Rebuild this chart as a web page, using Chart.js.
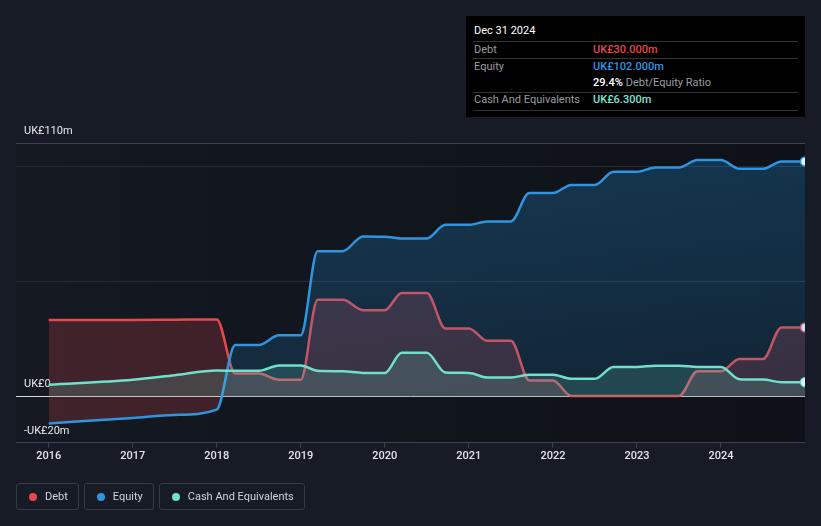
<!DOCTYPE html>
<html>
<head>
<meta charset="utf-8">
<script src="https://cdn.jsdelivr.net/npm/chart.js@4/dist/chart.umd.min.js"></script>
<style>
  html, body { margin: 0; padding: 0; background: #161b25; }
  body { width: 821px; height: 526px; position: relative; overflow: hidden; font-family: Roboto, "Noto Sans", sans-serif; }
  #wrap { position: absolute; left: 0; top: 0; width: 821px; height: 526px; }
  .legend { position: absolute; top: 483px; left: 16px; display: flex; gap: 5px; }
  .legend .item { height: 27px; border: 1px solid #363c46; border-radius: 3px; box-sizing: border-box; display: flex; align-items: center; padding: 0 10px 0 12px; font-size: 11px; color: #d2d4d8; }
  .legend .dot { width: 8px; height: 8px; border-radius: 50%; margin-right: 8px; }
  .tip { position: absolute; left: 466px; top: 16px; width: 339px; height: 101px; background: #000; font-size: 11px; }
  .tip .row { position: absolute; left: 8px; width: 324px; height: 17px; line-height: 17px; }
  .tip .sep { position: absolute; left: 7px; width: 325px; height: 1px; background: #333; }
  .tip .lab { position: absolute; left: 0; color: #9a9ca0; }
  .tip .val { position: absolute; left: 119px; font-weight: 500; }
</style>
</head>
<body>
<div id="wrap"><canvas id="myChart" width="821" height="526"></canvas></div>

<div class="tip">
  <div class="row" style="top:6px;color:#fff">Dec 31 2024</div>
  <div class="sep" style="top:25px"></div>
  <div class="row" style="top:25px"><span class="lab">Debt</span><span class="val" style="color:#e5484d">UK£30.000m</span></div>
  <div class="sep" style="top:42px"></div>
  <div class="row" style="top:42px"><span class="lab">Equity</span><span class="val" style="color:#2f95e0">UK£102.000m</span></div>
  <div class="row" style="top:58px"><span class="val" style="color:#fff">29.4% <span style="color:#9a9ca0;font-weight:400">Debt/Equity Ratio</span></span></div>
  <div class="sep" style="top:76px"></div>
  <div class="row" style="top:75px"><span class="lab">Cash And Equivalents</span><span class="val" style="color:#7ee4d2">UK£6.300m</span></div>
  <div class="sep" style="top:94px"></div>
</div>

<div class="legend">
  <div class="item"><span class="dot" style="background:#e5484d"></span>Debt</div>
  <div class="item"><span class="dot" style="background:#2f95e0"></span>Equity</div>
  <div class="item"><span class="dot" style="background:#6fe0c9"></span>Cash And Equivalents</div>
</div>

<script>
// decimal years of the reported points
var times = [2016.0, 2017.0, 2017.5, 2018.0, 2018.22, 2018.5, 2018.74, 2019.0, 2019.2, 2019.5, 2019.74, 2020.0,
             2020.2, 2020.5, 2020.72, 2021.0, 2021.22, 2021.5, 2021.72, 2022.0, 2022.22, 2022.5, 2022.72, 2023.0,
             2023.22, 2023.5, 2023.72, 2024.0, 2024.22, 2024.5, 2024.72, 2025.0];

// values in UK£m
var debt = [33.2, 33.3, 33.4, 33.5, 10, 10, 7.3, 7.3, 42, 42, 37.5, 37.5,
            45, 45, 29.6, 29.6, 24.2, 24.2, 7, 7, 0.3, 0.3, 0.3, 0.3,
            0.3, 0.3, 11, 11, 16.3, 16.3, 30, 30];
var equity = [-11.6, -9.2, -7.9, -5.6, 22.4, 22.4, 26.6, 26.6, 63.1, 63.1, 69.5, 69.4,
              68.6, 68.6, 74.5, 74.5, 76, 76, 88.3, 88.3, 91.8, 91.8, 97.5, 97.5,
              99.4, 99.4, 102.6, 102.6, 98.8, 98.8, 102, 102];
var cash = [5.2, 7.3, 9.3, 11.3, 11.2, 11.2, 13.5, 13.5, 11.2, 11.0, 10.3, 10.3,
            19.1, 19.1, 10.5, 10.3, 8.3, 8.3, 9.5, 9.5, 7.8, 7.8, 12.9, 12.9,
            13.4, 13.4, 12.9, 12.9, 7.6, 7.4, 6.3, 6.3];

var yearTicks = [2016, 2017, 2018, 2019, 2020, 2021, 2022, 2023, 2024];
var yTicks = [-20, 0, 50, 100, 110];
var yLabels = {'-20': '-UK£20m', '0': 'UK£0', '110': 'UK£110m'};

function pts(vals) {
    return vals.map(function (v, i) { return {x: times[i], y: v}; });
}
function lastOnly(r) {
    return times.map(function (t, i) { return i === times.length - 1 ? r : 0; });
}

var bgPlugin = {
    id: 'bg',
    beforeDraw: function (chart) {
        var c = chart.ctx, a = chart.chartArea;
        c.save();
        c.fillStyle = '#161b25';
        c.fillRect(0, 0, chart.width, chart.height);
        var g = c.createLinearGradient(a.left, 0, a.right, 0);
        g.addColorStop(0, '#141922');
        g.addColorStop(1, '#0e1117');
        c.fillStyle = g;
        c.fillRect(a.left, a.top, a.right - a.left, a.bottom - a.top);
        c.restore();
    }
};

function equityFill(context) {
    var a = context.chart.chartArea;
    if (!a) return 'rgba(35,148,223,0.22)';
    var g = context.chart.ctx.createLinearGradient(0, a.top, 0, a.bottom);
    g.addColorStop(0, 'rgba(35,148,223,0.28)');
    g.addColorStop(1, 'rgba(35,148,223,0.12)');
    return g;
}

var ctx = document.getElementById('myChart').getContext('2d');
var myChart = new Chart(ctx, {
    type: 'line',
    data: {
        datasets: [{
            label: 'Debt',
            data: pts(debt),
            borderColor: '#e5484d',
            backgroundColor: 'rgba(229,72,77,0.22)',
            fill: 'origin',
            order: 3
        }, {
            label: 'Equity',
            data: pts(equity),
            borderColor: '#2f95e0',
            backgroundColor: equityFill,
            fill: {target: 'origin', below: 'rgba(229,72,77,0.22)'},
            order: 2
        }, {
            label: 'Cash And Equivalents',
            data: pts(cash),
            borderColor: '#6fe0c9',
            backgroundColor: 'rgba(111,224,201,0.18)',
            fill: 'origin',
            order: 1
        }]
    },
    options: {
        responsive: false,
        animation: false,
        layout: { padding: { left: 0, right: 16, top: 143, bottom: 61 } },
        elements: {
            line: { borderWidth: 2.5, cubicInterpolationMode: 'monotone' },
            point: { radius: lastOnly(4), hoverRadius: 0, backgroundColor: '#e8f2fb', borderWidth: 1.5 }
        },
        datasets: {
            line: {
                clip: { left: 10, top: 10, right: 0, bottom: 10 },
                pointRadius: lastOnly(4.5),
                pointBackgroundColor: '#e8f2fb'
            }
        },
        plugins: {
            legend: { display: false },
            tooltip: { enabled: false }
        },
        scales: {
            x: {
                type: 'linear',
                min: 2015.611,
                max: 2025.0,
                afterBuildTicks: function (scale) {
                    scale.ticks = yearTicks.map(function (v) { return {value: v}; });
                },
                grid: { drawOnChartArea: false, drawTicks: true, tickLength: 5, color: '#3d424b' },
                border: { display: false },
                ticks: {
                    padding: 2,
                    color: '#e4e5e8',
                    font: { family: 'Roboto', size: 11, weight: '500' },
                    maxRotation: 0,
                    callback: function (v) { return String(v); }
                }
            },
            y: {
                min: -20,
                max: 110,
                afterBuildTicks: function (scale) {
                    scale.ticks = yTicks.map(function (v) { return {value: v}; });
                },
                grid: {
                    drawTicks: false,
                    lineWidth: 1,
                    color: function (c) {
                        var v = c.tick.value;
                        if (v === 0) return '#d8d9dc';
                        if (v === 110 || v === -20) return '#3d424b';
                        return '#252a33';
                    }
                },
                border: { display: false },
                ticks: {
                    mirror: true,
                    padding: 8,
                    labelOffset: -12,
                    color: '#e8e9eb',
                    font: { family: 'Roboto', size: 11 },
                    callback: function (v) { return yLabels[String(v)] || ''; }
                }
            }
        }
    },
    plugins: [bgPlugin]
});
</script>
</body>
</html>
